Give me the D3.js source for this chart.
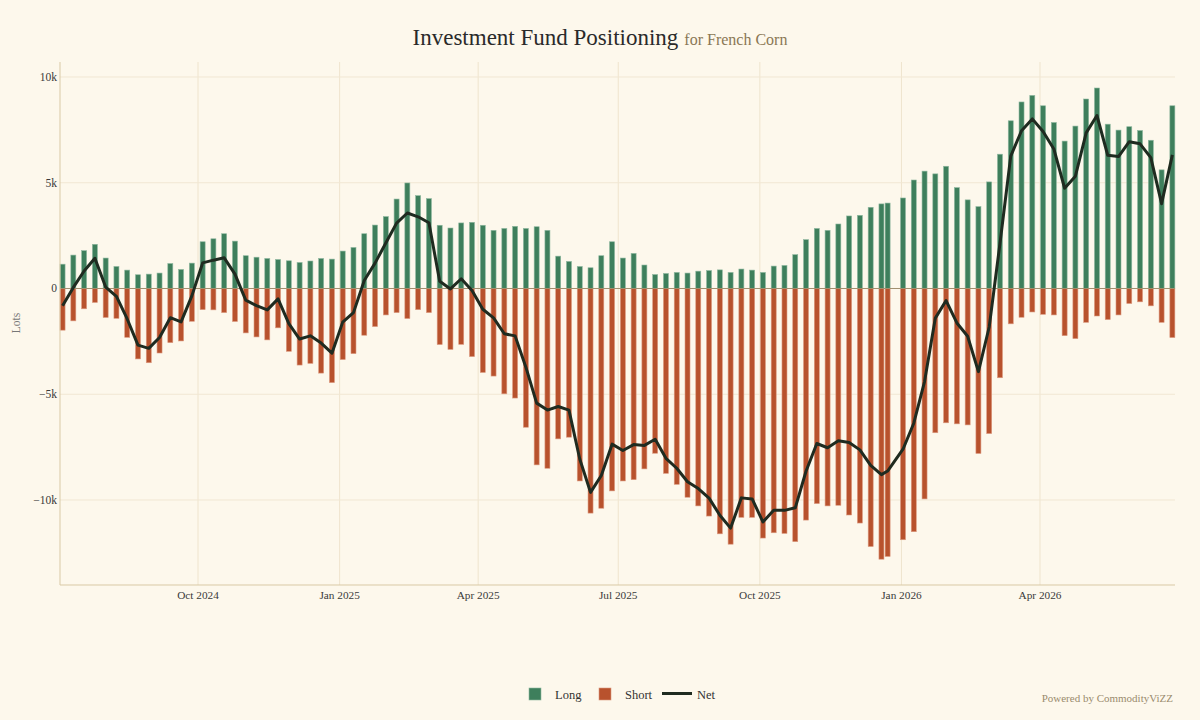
<!DOCTYPE HTML>
<html>
<head>
<meta charset="utf-8">
<script src="https://d3js.org/d3.v7.min.js"></script>
<style>
  body { margin:0; background:#fdf8ec; }
  text { font-family: "Liberation Serif", "Times New Roman", serif; }
</style>
</head>
<body onload="init()">
<svg id="svgMain" width="1200" height="720"></svg>

<script>
// report dates (weekly, Friday; holiday week moved to Tuesday 23 Dec)
const dates = [
 "2024-07-05","2024-07-12","2024-07-19","2024-07-26","2024-08-02","2024-08-09","2024-08-16","2024-08-23","2024-08-30",
 "2024-09-06","2024-09-13","2024-09-20","2024-09-27","2024-10-04","2024-10-11","2024-10-18","2024-10-25",
 "2024-11-01","2024-11-08","2024-11-15","2024-11-22","2024-11-29","2024-12-06","2024-12-13","2024-12-20","2024-12-27",
 "2025-01-03","2025-01-10","2025-01-17","2025-01-24","2025-01-31","2025-02-07","2025-02-14","2025-02-21","2025-02-28",
 "2025-03-07","2025-03-14","2025-03-21","2025-03-28","2025-04-04","2025-04-11","2025-04-18","2025-04-25",
 "2025-05-02","2025-05-09","2025-05-16","2025-05-23","2025-05-30","2025-06-06","2025-06-13","2025-06-20","2025-06-27",
 "2025-07-04","2025-07-11","2025-07-18","2025-07-25","2025-08-01","2025-08-08","2025-08-15","2025-08-22","2025-08-29",
 "2025-09-05","2025-09-12","2025-09-19","2025-09-26","2025-10-03","2025-10-10","2025-10-17","2025-10-24","2025-10-31",
 "2025-11-07","2025-11-14","2025-11-21","2025-11-28","2025-12-05","2025-12-12","2025-12-19","2025-12-23",
 "2026-01-02","2026-01-09","2026-01-16","2026-01-23","2026-01-30","2026-02-06","2026-02-13","2026-02-20","2026-02-27",
 "2026-03-06","2026-03-13","2026-03-20","2026-03-27","2026-04-03","2026-04-10","2026-04-17","2026-04-24",
 "2026-05-01","2026-05-08","2026-05-15","2026-05-22","2026-05-29","2026-06-05","2026-06-12","2026-06-19","2026-06-26"
];

// lots
const longPos = [
 1150,1580,1790,2090,1440,1040,870,650,680,730,1180,900,1200,2210,2350,2590,2240,1550,1480,1420,1370,1310,1230,1300,1420,1390,
 1770,1940,2590,3000,3400,4230,4990,4390,4250,2990,2860,3100,3130,2990,2750,2840,2940,2840,2920,2750,1530,1280,1040,980,1550,2210,
 1440,1660,1110,660,710,760,730,820,850,880,760,920,870,760,1060,1090,1600,2310,2840,2750,3050,3430,3460,3840,4000,4040,
 4280,5130,5550,5420,5780,4770,4190,3870,5040,6350,7930,8820,9130,8640,7850,6970,7680,8960,9480,7770,7490,7650,7470,7010,5610,8640
];
const shortPos = [
 -1970,-1530,-960,-660,-1370,-1410,-2310,-3330,-3510,-3050,-2560,-2480,-1550,-1000,-1010,-1140,-1560,-2100,-2290,-2430,-1860,-2970,-3620,-3540,-4000,-4450,
 -3360,-3080,-2210,-1800,-1250,-1140,-1420,-1000,-1140,-2650,-2880,-2640,-3220,-3970,-4140,-4980,-5180,-6560,-8340,-8500,-7110,-7030,-9100,-10620,-10390,-9570,
 -9100,-9040,-8530,-7790,-8740,-9260,-9870,-10280,-10760,-11600,-12090,-10820,-10820,-11800,-11550,-11580,-11970,-10950,-10170,-10280,-10250,-10710,-11090,-12200,-12800,-12670,
 -11880,-11500,-9950,-6820,-6350,-6400,-6450,-7800,-6860,-4220,-1670,-1360,-1110,-1220,-1250,-2230,-2370,-1600,-1300,-1470,-1250,-710,-630,-820,-1600,-2320
];
const netPos = [
 -820,50,830,1430,70,-370,-1440,-2680,-2830,-2320,-1380,-1580,-350,1210,1340,1450,680,-550,-810,-1010,-490,-1660,-2390,-2240,-2580,-3060,
 -1590,-1140,380,1200,2150,3090,3570,3390,3110,340,-20,460,-90,-980,-1390,-2140,-2240,-3720,-5420,-5750,-5580,-5750,-8060,-9640,-8840,-7360,
 -7660,-7380,-7420,-7130,-8030,-8500,-9140,-9460,-9910,-10720,-11330,-9900,-9950,-11040,-10490,-10490,-10370,-8640,-7330,-7530,-7200,-7280,-7630,-8360,-8800,-8630,
 -7600,-6370,-4400,-1400,-570,-1630,-2260,-3930,-1820,2130,6260,7460,8020,7420,6600,4740,5310,7360,8180,6300,6240,6940,6840,6190,4010,6320
];

const yTicks = [-10000, -5000, 0, 5000, 10000];
const yTickLabels = ["\u221210k", "\u22125k", "0", "5k", "10k"];
const seriesNames = ["Long", "Short", "Net"];
const seriesColors = ["#3e7f5c", "#b8522d", "#1f2b20"];

function init() {
  const svg = d3.select("#svgMain");
  const L = 60, R = 1175, T = 62, B = 585;
  const parse = d3.utcParse("%Y-%m-%d");

  const rows = dates.map((d, i) => ({date: parse(d), long: longPos[i], short: shortPos[i], net: netPos[i]}));

  const xs = d3.scaleUtc()
    .domain([Date.UTC(2024, 6, 3, 8), Date.UTC(2026, 5, 27, 17)])
    .range([L, R]);
  const ys = d3.scaleLinear().domain([-14020, 10710]).range([B, T]);

  svg.append("rect").attr("width", 1200).attr("height", 720).attr("fill", "#fdf8ec");

  // grid
  const xTicks = xs.ticks(d3.utcMonth.every(3));
  svg.append("g").selectAll("line").data(xTicks).enter().append("line")
    .attr("x1", d => xs(d)).attr("x2", d => xs(d)).attr("y1", T).attr("y2", B)
    .attr("stroke", "#efe4cd").attr("stroke-width", 1);
  svg.append("g").selectAll("line").data(yTicks.filter(d => d != 0)).enter().append("line")
    .attr("x1", L).attr("x2", R).attr("y1", d => ys(d)).attr("y2", d => ys(d))
    .attr("stroke", "#f1e7d3").attr("stroke-width", 1);

  // bars
  const bw = 5;
  svg.append("g").selectAll("rect").data(rows).enter().append("rect")
    .attr("x", d => xs(d.date) - bw / 2).attr("width", bw)
    .attr("y", d => ys(d.long)).attr("height", d => ys(0) - ys(d.long))
    .attr("fill", seriesColors[0]).attr("stroke", "#8fb8a0").attr("stroke-width", 0.6);
  svg.append("g").selectAll("rect").data(rows).enter().append("rect")
    .attr("x", d => xs(d.date) - bw / 2).attr("width", bw)
    .attr("y", ys(0)).attr("height", d => ys(d.short) - ys(0))
    .attr("fill", seriesColors[1]).attr("stroke", "#dc9a80").attr("stroke-width", 0.6);

  // zero line
  svg.append("line").attr("x1", L).attr("x2", R).attr("y1", ys(0)).attr("y2", ys(0))
    .attr("stroke", "#a08f70").attr("stroke-width", 1);

  // net line
  svg.append("path").datum(rows)
    .attr("d", d3.line().x(d => xs(d.date)).y(d => ys(d.net)))
    .attr("fill", "none").attr("stroke", seriesColors[2]).attr("stroke-width", 3)
    .attr("stroke-linejoin", "round");

  // axes lines
  svg.append("line").attr("x1", L).attr("x2", L).attr("y1", T).attr("y2", B).attr("stroke", "#d9c9a5");
  svg.append("line").attr("x1", L).attr("x2", R).attr("y1", B).attr("y2", B).attr("stroke", "#d9c9a5");

  // tick labels
  const fmt = d3.utcFormat("%b %Y");
  svg.append("g").selectAll("text").data(xTicks).enter().append("text")
    .attr("x", d => xs(d)).attr("y", 599).attr("text-anchor", "middle")
    .attr("font-size", 11.3).attr("fill", "#3a3a3a").text(d => fmt(d));
  svg.append("g").selectAll("text").data(yTicks).enter().append("text")
    .attr("x", 57).attr("y", d => ys(d) + 4).attr("text-anchor", "end")
    .attr("font-size", 11.5).attr("fill", "#3a3a3a").text((d, i) => yTickLabels[i]);

  svg.append("text").attr("transform", "translate(20,323) rotate(-90)")
    .attr("text-anchor", "middle").attr("font-size", 11.5).attr("fill", "#777")
    .text("Lots");

  // title
  const title = svg.append("text").attr("x", 600).attr("y", 45).attr("text-anchor", "middle");
  title.append("tspan").attr("font-size", 23).attr("fill", "#2a2a2a").text("Investment Fund Positioning");
  title.append("tspan").attr("font-size", 16).attr("fill", "#8a7755").attr("dx", 6).text("for French Corn");

  // legend
  const lg = svg.append("g").attr("font-size", 12.5).attr("fill", "#333");
  lg.append("rect").attr("x", 529).attr("y", 688).attr("width", 12).attr("height", 12)
    .attr("fill", seriesColors[0]).attr("stroke", "#8fb8a0").attr("stroke-width", 0.6);
  lg.append("text").attr("x", 555).attr("y", 699).text(seriesNames[0]);
  lg.append("rect").attr("x", 599).attr("y", 688).attr("width", 12).attr("height", 12)
    .attr("fill", seriesColors[1]).attr("stroke", "#dc9a80").attr("stroke-width", 0.6);
  lg.append("text").attr("x", 625).attr("y", 699).text(seriesNames[1]);
  lg.append("line").attr("x1", 662).attr("x2", 692).attr("y1", 693.5).attr("y2", 693.5)
    .attr("stroke", seriesColors[2]).attr("stroke-width", 3);
  lg.append("text").attr("x", 697).attr("y", 699).text(seriesNames[2]);

  svg.append("text").attr("x", 1173).attr("y", 702).attr("text-anchor", "end")
    .attr("font-size", 11).attr("fill", "#9a8b6d").text("Powered by CommodityViZZ");
}
</script>
</body>
</html>
